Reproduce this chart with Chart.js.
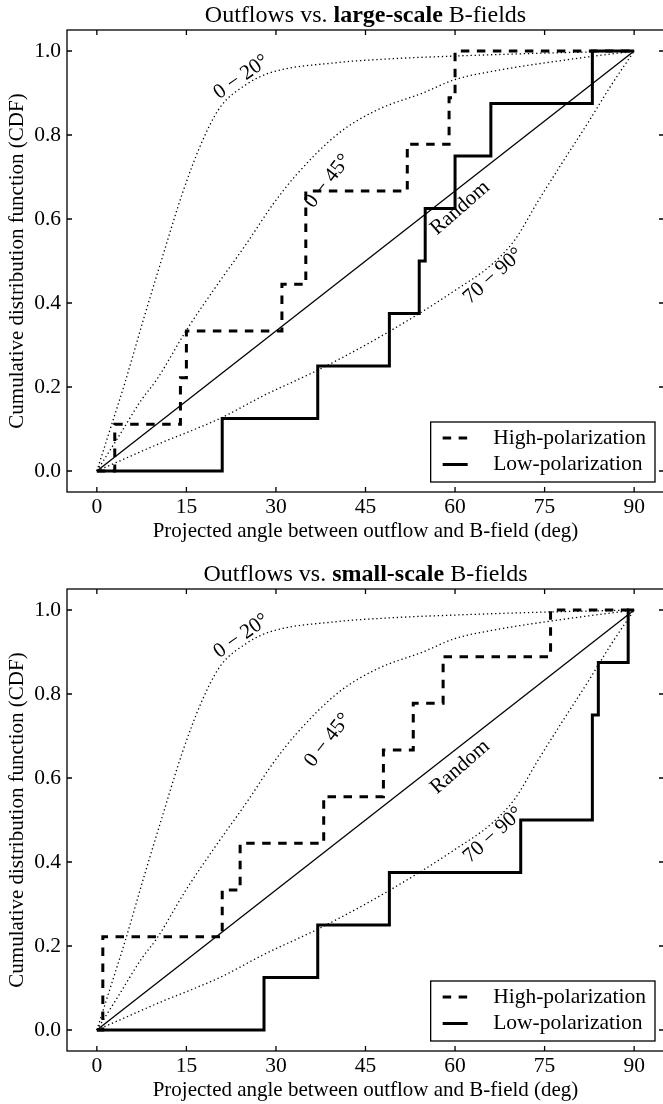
<!DOCTYPE html>
<html>
<head>
<meta charset="utf-8">
<script src="https://cdn.jsdelivr.net/npm/chart.js@4/dist/chart.umd.min.js"></script>
<style>
  html, body { margin: 0; padding: 0; background: #fff; overflow: hidden; }
  .panel { position: absolute; left: 0; width: 668px; height: 559px; }
</style>
</head>
<body>
<div class="panel" style="top:0"><canvas id="largeScale" width="668" height="559"></canvas></div>
<div class="panel" style="top:559px"><canvas id="smallScale" width="668" height="559"></canvas></div>
<script>
// ===== data =====

const xTicks = [0, 15, 30, 45, 60, 75, 90];
const yTicks = [0, 0.2, 0.4, 0.6, 0.8, 1.0];

// projected angles (deg)
const largeHigh = [3, 14, 15, 31, 35, 35, 52, 59, 60];
const largeLow = [21, 37, 49, 54, 55, 60, 66, 83];
const smallHigh = [1, 1, 21, 24, 38, 48, 53, 58, 76];
const smallLow = [28, 37, 49, 71, 83, 83, 84, 89];

// model CDF curves, [angle, cdf]
const model0to20 = [[0, 0], [2.2, 0.098], [4.7, 0.21], [8, 0.37], [11, 0.51], [14.3, 0.66],
    [17.5, 0.78], [20.6, 0.865], [25, 0.92], [29, 0.948], [40, 0.972], [50, 0.982],
    [60, 0.988], [75, 0.995], [90, 1]];
const model0to45 = [[0, 0], [3.3, 0.074], [7.5, 0.17], [10, 0.217], [15, 0.335], [20, 0.44],
    [25, 0.54], [29.5, 0.635], [33.4, 0.705], [40.5, 0.804], [47, 0.86], [54.6, 0.9],
    [60, 0.932], [67.6, 0.955], [78.7, 0.979], [90, 1]];
const model70to90 = [[0, 0], [10.6, 0.066], [20.6, 0.125], [28, 0.18], [37, 0.24], [45, 0.3],
    [54, 0.375], [60, 0.43], [66, 0.49], [70, 0.55], [73.8, 0.64], [78, 0.735],
    [82.3, 0.83], [86, 0.915], [90, 1]];
const randomLine = [[0, 0], [90, 1]];

const curveLabels = [
    { text: '0 − 20°', x: 24.2, y: 0.938, angle: -35 },
    { text: '0 − 45°', x: 38.7, y: 0.69, angle: -52 },
    { text: 'Random', x: 60.85, y: 0.626, angle: -41 },
    { text: '70 − 90°', x: 66.4, y: 0.464, angle: -42 }
];

const FONT = "'Liberation Serif', 'DejaVu Serif', serif";

Chart.defaults.font.family = FONT;
Chart.defaults.font.size = 21;
Chart.defaults.color = '#000';

// ===== helpers =====

function cdfPoints(angles) {
    const n = angles.length;
    const pts = [{ x: 0, y: 0 }];
    angles.forEach((a, i) => pts.push({ x: a, y: (i + 1) / n }));
    pts.push({ x: 90, y: 1 });
    return pts;
}

const toXY = arr => arr.map(([x, y]) => ({ x, y }));

// ===== plugins =====

// matplotlib style box with inward ticks on all four sides
const frame = {
    id: 'frame',
    afterDatasetsDraw(chart) {
        const { ctx, chartArea: a, scales: { x, y } } = chart;
        const len = 5;
        ctx.save();
        ctx.strokeStyle = '#000';
        ctx.lineWidth = 1.3;
        ctx.strokeRect(a.left, a.top, a.right - a.left, a.bottom - a.top);
        ctx.beginPath();
        x.ticks.forEach(t => {
            const px = x.getPixelForValue(t.value);
            ctx.moveTo(px, a.bottom); ctx.lineTo(px, a.bottom - len);
            ctx.moveTo(px, a.top); ctx.lineTo(px, a.top + len);
        });
        y.ticks.forEach(t => {
            const py = y.getPixelForValue(t.value);
            ctx.moveTo(a.left, py); ctx.lineTo(a.left + len, py);
            ctx.moveTo(a.right, py); ctx.lineTo(a.right - len, py);
        });
        ctx.stroke();
        ctx.restore();
    }
};

// rotated labels next to the model curves, drawn under the step lines
const curveText = {
    id: 'curveText',
    beforeDatasetDraw(chart, args) {
        if (args.index !== 1) return;
        const { ctx, scales: { x, y } } = chart;
        ctx.save();
        ctx.font = `21px ${FONT}`;
        ctx.fillStyle = '#000';
        ctx.textAlign = 'center';
        ctx.textBaseline = 'middle';
        curveLabels.forEach(l => {
            ctx.save();
            ctx.translate(x.getPixelForValue(l.x), y.getPixelForValue(l.y));
            ctx.rotate(l.angle * Math.PI / 180);
            ctx.fillText(l.text, 0, 0);
            ctx.restore();
        });
        ctx.restore();
    }
};

// legend box in the lower right corner
const stepLegend = {
    id: 'stepLegend',
    afterDraw(chart) {
        const { ctx, chartArea: a } = chart;
        const items = chart.data.datasets.slice(0, 2);
        ctx.save();
        ctx.font = `21.5px ${FONT}`;
        const textW = Math.max(...items.map(d => ctx.measureText(d.label).width));
        const w = 12 + 25 + 25.5 + textW + 9;
        const h = 60;
        const left = a.right - 9 - w;
        const top = a.bottom - 10 - h;
        ctx.fillStyle = '#fff';
        ctx.fillRect(left, top, w, h);
        ctx.strokeStyle = '#000';
        ctx.lineWidth = 1.3;
        ctx.strokeRect(left, top, w, h);
        items.forEach((d, i) => {
            const cy = top + 16 + i * 26.5;
            ctx.beginPath();
            ctx.lineWidth = 3;
            ctx.setLineDash(d.borderDash || []);
            ctx.moveTo(left + 12, cy);
            ctx.lineTo(left + 37, cy);
            ctx.stroke();
            ctx.setLineDash([]);
            ctx.fillStyle = '#000';
            ctx.textBaseline = 'middle';
            ctx.fillText(d.label, left + 62.5, cy);
        });
        ctx.restore();
    }
};

// title with a bold middle part
const splitTitle = {
    id: 'splitTitle',
    afterDraw(chart, args, opts) {
        if (!opts.parts) return;
        const { ctx, chartArea: a } = chart;
        ctx.save();
        ctx.textBaseline = 'middle';
        ctx.fillStyle = '#000';
        const fonts = opts.parts.map(p => `${p.bold ? 'bold ' : ''}24px ${FONT}`);
        const widths = opts.parts.map((p, i) => {
            ctx.font = fonts[i];
            return ctx.measureText(p.text).width;
        });
        let x = (a.left + a.right) / 2 - widths.reduce((s, w) => s + w, 0) / 2;
        opts.parts.forEach((p, i) => {
            ctx.font = fonts[i];
            ctx.fillText(p.text, x, opts.y);
            x += widths[i];
        });
        ctx.restore();
    }
};

// ===== charts =====

function makeChart(id, scaleWord, high, low) {
    return new Chart(document.getElementById(id), {
        type: 'line',
        data: {
            datasets: [
                { label: 'High-polarization', data: cdfPoints(high), stepped: 'before',
                  borderColor: '#000', borderWidth: 3, borderDash: [8.5, 7.5], borderCapStyle: 'butt' },
                { label: 'Low-polarization', data: cdfPoints(low), stepped: 'before',
                  borderColor: '#000', borderWidth: 3 },
                { label: 'Random', data: toXY(randomLine), borderColor: '#000', borderWidth: 1.3 },
                { label: '0-20', data: toXY(model0to20), borderColor: '#000', borderWidth: 1.3,
                  borderDash: [1.3, 2.8], cubicInterpolationMode: 'monotone' },
                { label: '0-45', data: toXY(model0to45), borderColor: '#000', borderWidth: 1.3,
                  borderDash: [1.3, 2.8], cubicInterpolationMode: 'monotone' },
                { label: '70-90', data: toXY(model70to90), borderColor: '#000', borderWidth: 1.3,
                  borderDash: [1.3, 2.8], cubicInterpolationMode: 'monotone' }
            ]
        },
        options: {
            responsive: false,
            animation: false,
            devicePixelRatio: 1,
            layout: { padding: { top: 30, right: 4, left: 0, bottom: 0 } },
            elements: { point: { radius: 0, hoverRadius: 0 } },
            plugins: {
                legend: { display: false },
                tooltip: { enabled: false },
                splitTitle: {
                    y: 16,
                    parts: [
                        { text: 'Outflows vs. ' },
                        { text: scaleWord, bold: true },
                        { text: ' B-fields' }
                    ]
                }
            },
            scales: {
                x: {
                    type: 'linear', min: -5, max: 95,
                    afterBuildTicks: s => { s.ticks = xTicks.map(v => ({ value: v })); },
                    afterFit: s => { s.height = 67; },
                    grid: { display: false, drawTicks: false },
                    border: { display: false },
                    ticks: { padding: 2.5, maxRotation: 0, autoSkip: false, font: { size: 21.5 } },
                    title: { display: true, text: 'Projected angle between outflow and B-field (deg)',
                             padding: { top: 0, bottom: 15 } }
                },
                y: {
                    type: 'linear', min: -0.05, max: 1.05,
                    afterBuildTicks: s => { s.ticks = yTicks.map(v => ({ value: v })); },
                    afterFit: s => { s.width = 67; },
                    grid: { display: false, drawTicks: false },
                    border: { display: false },
                    ticks: { padding: 6, callback: v => v.toFixed(1), font: { size: 21.5 } },
                    title: { display: true, text: 'Cumulative distribution function (CDF)',
                             padding: { top: 4.5, bottom: 0 } }
                }
            }
        },
        plugins: [frame, curveText, stepLegend, splitTitle]
    });
}

makeChart('largeScale', 'large-scale', largeHigh, largeLow);
makeChart('smallScale', 'small-scale', smallHigh, smallLow);
</script>
</body>
</html>
